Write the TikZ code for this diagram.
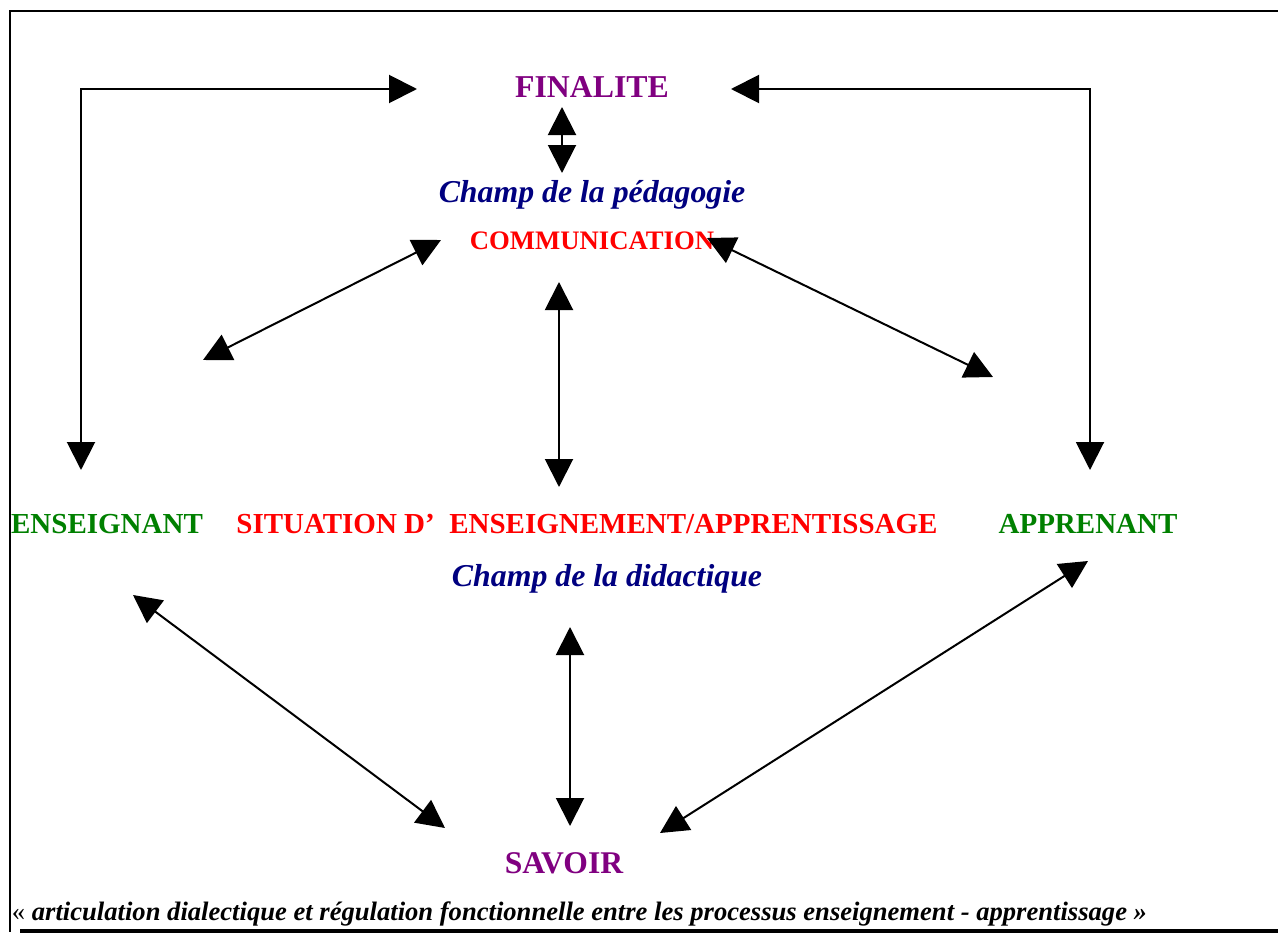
\documentclass[tikz,border=0pt]{standalone}
\usepackage{fontspec}
\setmainfont{Liberation Serif}
\usetikzlibrary{arrows.meta}
\definecolor{cviolet}{rgb}{0.5, 0, 0.5}
\definecolor{cmarine}{rgb}{0, 0, 0.5}
\definecolor{crouge}{rgb}{1, 0, 0}
\definecolor{cvert}{rgb}{0, 0.5, 0}
\newcommand{\taille}[1]{\fontsize{#1}{#1}\selectfont}

\begin{document}
\begin{tikzpicture}[x=1pt, y=-1pt, <->, >={Triangle[length=28pt, width=28pt]}, line width=2pt]
  \tikzstyle{mot}=[inner sep=0pt, anchor=base, font=\bfseries\taille{29}]
  \tikzstyle{champ}=[mot, text=cmarine, font=\bfseries\itshape\taille{31.8}]

	\useasboundingbox (0,0) rectangle (1278,934);
	% cadre
	\draw[-, line width=2.5pt] (1278,11) -- (10,11) -- (10,932);
	\draw[-, line width=3.5pt] (20,931) -- (1278,931);

	\node[mot, text=cviolet, font=\bfseries\taille{31.8}] (FIN) at (592,98) {FINALITE};
	\node[champ]          (PED) at (592,202) {Champ de la pédagogie};
	\node[mot, text=crouge, font=\bfseries\taille{26.7}] (COM) at (592,249) {COMMUNICATION};
	\node[mot, text=cvert]  (ENS) at (107,533) {ENSEIGNANT};
	\node[mot, text=crouge] (SIT) at (587,533) {SITUATION D’\ \ ENSEIGNEMENT/APPRENTISSAGE};
	\node[mot, text=cvert]  (APP) at (1088,533) {APPRENANT};
	\node[champ]          (DID) at (607,586) {Champ de la didactique};
	\node[mot, text=cviolet, font=\bfseries\taille{31.6}] (SAV) at (564,873) {SAVOIR};
	\node[mot, anchor=base west, font=\taille{26.6}] (LEG) at (11,920)
		{« \textbf{\textit{articulation dialectique et régulation fonctionnelle entre les processus enseignement - apprentissage »}}};

	% extremites des fleches
	\coordinate (E1) at (81,470);   \coordinate (F1) at (417,89);
	\coordinate (A1) at (1090,470); \coordinate (F2) at (731,89);
	\coordinate (F3) at (562,107);  \coordinate (P1) at (562,173);
	\coordinate (E2) at (203,360);  \coordinate (C1) at (441,240);
	\coordinate (C2) at (707,238);  \coordinate (A2) at (993,377);
	\coordinate (C3) at (559,282);  \coordinate (S1) at (559,487);
	\coordinate (E3) at (133,595);  \coordinate (V1) at (445,828);
	\coordinate (D1) at (570,627);  \coordinate (V2) at (570,826);
	\coordinate (A3) at (1088,561); \coordinate (V3) at (660,833);

	\draw (E1) |- (F1);
	\draw (A1) |- (F2);
	\draw (F3) -- (P1);
	\draw (E2) -- (C1);
	\draw (C2) -- (A2);
	\draw (C3) -- (S1);
	\draw (E3) -- (V1);
	\draw (D1) -- (V2);
	\draw (A3) -- (V3);

\end{tikzpicture}
\end{document}
